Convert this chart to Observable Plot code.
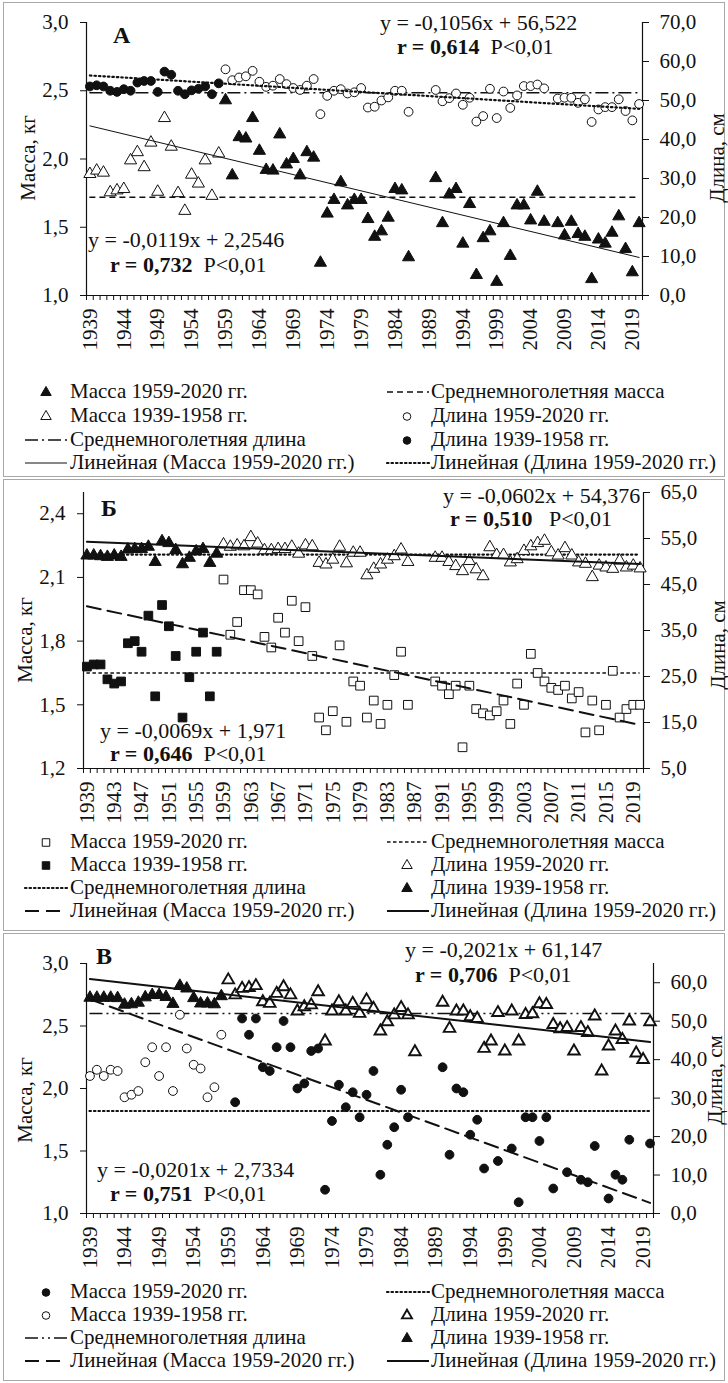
<!DOCTYPE html>
<html><head><meta charset="utf-8">
<script src="https://cdn.jsdelivr.net/npm/d3@7"></script>
<script src="https://cdn.jsdelivr.net/npm/@observablehq/plot@0.6"></script>
<style>
body{margin:0;background:#fff;font-family:"Liberation Serif","Times New Roman",serif;color:#111;}
#page{position:relative;width:728px;height:1383px;overflow:hidden;background:#fff;}
.box{position:absolute;border:1.5px solid #a8a8a8;box-sizing:border-box;}
.t{position:absolute;white-space:nowrap;font-size:22px;line-height:1;}
.lg{position:absolute;white-space:nowrap;font-size:21px;line-height:1;}
.rot{position:absolute;white-space:nowrap;font-size:21px;line-height:1;transform:translate(-50%,-50%) rotate(-90deg);}
.svgwrap{position:absolute;left:0;}
</style></head>
<body><div id="page"></div>
<script>
// ---------------- DATA ----------------
const yearsEarly = d3.range(1939, 1959);
const yearsLate = d3.range(1959, 2021);

// Panel A
const massA_early = [1.89,1.915,1.90,1.756,1.77,1.78,1.99,2.05,1.94,2.12,1.76,2.30,2.09,1.75,1.62,1.885,1.82,1.99,1.73,2.04];
const lenA_early = [53.6,53.9,53.6,52.5,52.2,52.9,52.5,54.6,55.0,55.0,52.2,57.4,56.6,52.5,51.6,52.6,53.0,53.6,51.6,54.4];
const massA_late = [2.43,1.88,2.16,2.15,2.30,2.06,1.92,1.915,2.18,1.96,2.00,1.88,2.05,2.01,1.24,1.60,1.70,1.83,1.66,1.70,
  1.70,1.56,1.43,1.47,1.57,1.78,1.77,1.28,null,null,null,1.86,1.53,1.74,1.78,1.38,1.67,1.15,1.42,1.47,
  1.10,1.53,1.29,1.66,1.66,1.55,1.76,1.54,null,1.53,1.44,1.54,1.45,1.43,1.12,1.41,1.38,1.46,1.58,1.34,1.17,1.53];
const lenA_late = [58.0,55.2,55.9,56.2,57.6,54.8,53.5,53.8,55.5,54.2,53.2,52.7,53.8,55.5,46.5,51.2,52.5,52.9,51.8,52.1,
  53.2,48.2,48.4,50.0,50.8,52.5,52.5,47.1,null,null,null,52.7,49.8,50.6,51.8,48.9,50.7,44.6,46.0,53.0,
  45.5,52.3,48.1,51.3,53.7,53.7,54.1,53.1,null,50.5,50.7,50.7,49.4,50.3,44.5,47.7,48.3,48.3,50.3,47.3,44.9,49.1];
const meanA = {mass: 1.72, len: 52.0};
const trendA = {massSlope: -0.0119, massIntercept: 2.2546, lenSlope: -0.1056, lenIntercept: 56.522};

// Panel B
const massB_early = [1.68,1.69,1.69,1.62,1.60,1.61,1.79,1.80,1.75,1.92,1.54,1.97,1.87,1.73,1.44,1.63,1.75,1.84,1.54,1.75];
const lenB_early = [51.3,51.3,51.15,51.0,51.3,51.0,52.6,52.7,52.7,53.2,49.9,54.4,54.0,52.5,49.4,50.8,52.2,52.7,49.7,51.7];
const massB_late = [2.09,1.83,1.89,2.04,2.04,2.02,1.82,1.77,1.91,1.84,1.99,1.80,1.96,1.73,1.44,1.38,1.47,1.78,1.42,1.61,
  1.59,1.44,1.52,1.41,1.50,1.64,1.75,1.50,null,null,null,1.61,1.59,1.55,1.59,1.30,1.59,1.48,1.46,1.45,
  1.47,1.52,1.41,1.60,1.50,1.74,1.65,1.61,1.58,1.57,1.59,1.53,1.56,1.37,1.52,1.38,1.50,1.66,1.44,1.48,1.50,1.50];
const lenB_late = [53.7,53.2,53.5,53.3,55.3,53.9,52.45,52.45,52.7,52.7,53.2,51.7,53.5,53.3,49.7,49.35,50.4,53.2,49.6,51.9,
  51.9,47.0,48.4,49.35,50.4,51.15,52.6,49.9,null,null,null,50.8,50.8,49.9,49.0,47.9,50.1,48.3,46.8,53.1,
  51.4,51.4,49.8,50.5,52.3,53.3,54.0,54.5,52.0,51.3,52.9,51.3,49.8,49.5,46.6,49.1,48.7,48.4,50.2,48.7,49.1,48.5];
const meanB = {mass: 1.65, len: 51.5};
const trendB = {massSlope: -0.0069, massIntercept: 1.971, lenSlope: -0.0602, lenIntercept: 54.376};

// Panel C
const massC_early = [2.10,2.15,2.10,2.15,2.14,1.93,1.95,1.98,2.21,2.33,2.10,2.33,1.98,2.59,2.32,2.19,2.16,1.93,2.01,2.43];
const lenC_early = [56.1,56.1,56.1,56.1,56.0,54.3,54.4,54.8,56.2,56.8,56.8,56.3,54.5,59.2,58.5,56.0,54.6,54.6,54.4,56.5];
const massC_late = [null,1.89,2.56,2.43,2.56,2.17,2.14,2.33,2.54,2.33,2.00,2.04,2.30,2.32,1.19,1.74,2.03,1.85,1.97,1.77,
  1.95,2.14,1.31,1.55,1.69,1.99,1.77,null,null,null,null,2.17,1.47,2.00,1.97,1.63,1.75,1.36,null,1.42,
  null,1.52,1.09,1.77,1.77,1.58,1.77,1.20,null,1.33,null,1.27,1.25,1.54,null,1.12,1.31,1.27,1.59,null,null,1.56];
const lenC_late = [60.7,56.8,58.5,58.7,59.2,55.0,54.6,57.2,58.9,56.8,52.6,53.7,54.2,57.6,44.8,52.6,55.0,52.6,54.6,52.0,
  55.5,53.3,47.4,49.8,51.6,53.5,51.6,42.0,null,null,null,54.9,48.1,52.6,52.6,51.1,50.7,42.9,44.8,52.2,
  42.2,52.6,44.8,51.7,51.9,54.5,54.3,49.1,48.0,48.3,42.2,48.3,47.0,51.3,37.0,43.5,47.4,45.2,50.0,41.7,40.0,49.8];
const meanC = {mass: 1.82, len: 52.0};
const trendC = {massSlope: -0.0201, massIntercept: 2.7334, lenSlope: -0.2021, lenIntercept: 61.147};

// Tick labels
const kgTicksA = [1.0,1.5,2.0,2.5,3.0], cmTicksA = [0,10,20,30,40,50,60,70];
const kgTicksB = [1.2,1.5,1.8,2.1,2.4], cmTicksB = [5,15,25,35,45,55,65];
const kgTicksC = [1.0,1.5,2.0,2.5,3.0], cmTicksC = [0,10,20,30,40,50,60];
const yearLabelsA = d3.range(1939, 2020, 5);
const yearLabelsB = d3.range(1939, 2020, 4);
const yearLabelsC = d3.range(1939, 2020, 5);

const legendA = [
  [["triF","Масса 1959-2020 гг."],["dash","Среднемноголетняя масса"]],
  [["triO","Масса 1939-1958 гг."],["cirO","Длина 1959-2020 гг."]],
  [["dashdot","Среднемноголетняя длина"],["cirF","Длина 1939-1958 гг."]],
  [["thin","Линейная (Масса 1959-2020 гг.)"],["dot","Линейная (Длина 1959-2020 гг.)"]]
];
const legendB = [
  [["sqO","Масса 1959-2020 гг."],["short","Среднемноголетняя масса"]],
  [["sqF","Масса 1939-1958 гг."],["triO","Длина 1959-2020 гг."]],
  [["dot","Среднемноголетняя длина"],["triF","Длина 1939-1958 гг."]],
  [["long","Линейная (Масса 1959-2020 гг.)"],["solid","Линейная (Длина 1959-2020 гг.)"]]
];
const legendC = [
  [["cirF","Масса 1959-2020 гг."],["dot","Среднемноголетняя масса"]],
  [["cirO","Масса 1939-1958 гг."],["triOB","Длина 1959-2020 гг."]],
  [["dashdotdot","Среднемноголетняя длина"],["triF","Длина 1939-1958 гг."]],
  [["long","Линейная (Масса 1959-2020 гг.)"],["solid","Линейная (Длина 1959-2020 гг.)"]]
];

// ---------------- DRAWING ----------------
const page = document.getElementById("page");
const fmt1 = d => (Math.round(d*10)/10).toFixed(1).replace(".", ",");
const FONT = "Liberation Serif";
const lineStyles = {
  dash: {dash:"6,4", w:1.6},
  short: {dash:"3.5,2.5", w:1.6},
  dot: {dash:"1.5,3", w:2.2, cap:"round"},
  dashdot: {dash:"13,4,2,4", w:1.6},
  dashdotdot: {dash:"13,4,2,4,2,4", w:1.6},
  thin: {dash:null, w:1},
  solid: {dash:null, w:2},
  long: {dash:"14,7", w:2}
};
const markerStyles = {
  triF:{symbol:"triangle", fill:"#111", sw:1, r:4.5},
  triO:{symbol:"triangle", fill:"#fff", sw:1, r:4.5},
  triOB:{symbol:"triangle", fill:"#fff", sw:1.9, r:4.3},
  cirF:{symbol:"circle", fill:"#111", sw:1, r:4.4},
  cirO:{symbol:"circle", fill:"#fff", sw:1, r:4.4},
  sqF:{symbol:"square", fill:"#111", sw:1, r:4.9},
  sqO:{symbol:"square", fill:"#fff", sw:1, r:4.9}
};

function rows(yrs, vals, conv) {
  return yrs.map((y, i) => ({year: y, v: vals[i] == null ? null : conv(vals[i])})).filter(d => d.v != null);
}
function trendRows(slope, intercept, conv) {
  return [1, 82].map(i => ({year: 1938 + i, v: conv(intercept + slope * i)}));
}
function addText(html, left, top, cls, extra) {
  const d = document.createElement("div");
  d.className = cls || "t";
  d.innerHTML = html;
  d.style.left = left + "px"; d.style.top = top + "px";
  if (extra) Object.assign(d.style, extra);
  page.appendChild(d);
  return d;
}
function legendSym(key, cx) {
  const ns = "http://www.w3.org/2000/svg";
  const svg = document.createElementNS(ns, "svg");
  svg.setAttribute("width", 50); svg.setAttribute("height", 16);
  svg.style.position = "absolute";
  if (lineStyles[key]) {
    const s = lineStyles[key];
    const l = document.createElementNS(ns, "line");
    l.setAttribute("x1", 3); l.setAttribute("x2", 45); l.setAttribute("y1", 8); l.setAttribute("y2", 8);
    l.setAttribute("stroke", "#111"); l.setAttribute("stroke-width", s.w);
    if (s.dash) l.setAttribute("stroke-dasharray", s.dash);
    if (s.cap) l.setAttribute("stroke-linecap", s.cap);
    svg.appendChild(l);
  } else {
    const m = markerStyles[key];
    const p = document.createElementNS(ns, "path");
    const sym = {triangle: d3.symbolTriangle, circle: d3.symbolCircle, square: d3.symbolSquare}[m.symbol];
    p.setAttribute("d", d3.symbol(sym, Math.PI * m.r * m.r * 0.75)());
    p.setAttribute("transform", "translate(" + cx + ",8.5)");
    p.setAttribute("fill", m.fill); p.setAttribute("stroke", "#111"); p.setAttribute("stroke-width", m.sw);
    svg.appendChild(p);
  }
  return svg;
}

function drawPanel(cfg) {
  const conv = cfg.toKg;
  const marks = [];
  marks.push(Plot.ruleX([1938.5], {stroke:"#111", strokeWidth:1.2}));
  marks.push(Plot.ruleX([2020.5], {stroke:"#111", strokeWidth:1.2}));
  marks.push(Plot.ruleY([cfg.kgDomain[0]], {stroke:"#111", strokeWidth:1.2}));
  marks.push(Plot.axisY(cfg.kgTicks, {anchor:"left", tickSize:6, tickPadding:12, fontSize:21, tickFormat: fmt1, label:null}));
  marks.push(Plot.axisY(cfg.cmTicks.map(conv), {anchor:"right", tickSize:6, tickPadding:11, fontSize:21,
    tickFormat: d => fmt1(cfg.fromKg(d)), label:null}));
  marks.push(Plot.axisX(d3.range(1938.5, 2021, 1), {anchor:"bottom", tickSize:5, tickFormat: () => "", label:null}));
  marks.push(Plot.axisX(cfg.yearLabels, {anchor:"bottom", tickSize:0, tickPadding:13, tickRotate:-90, fontSize:21,
    tickFormat: d => String(d), label:null}));
  const ms = lineStyles[cfg.meanMassStyle], ls = lineStyles[cfg.meanLenStyle];
  marks.push(Plot.ruleY([cfg.mean.mass], {x1:1939, x2:2020, stroke:"#111", strokeWidth:ms.w, strokeDasharray:ms.dash, strokeLinecap:ms.cap}));
  marks.push(Plot.ruleY([conv(cfg.mean.len)], {x1:1939, x2:2020, stroke:"#111", strokeWidth:ls.w, strokeDasharray:ls.dash, strokeLinecap:ls.cap}));
  for (const s of cfg.series) {
    const m = markerStyles[s.marker];
    marks.push(Plot.dot(rows(s.years, s.values, s.len ? conv : (v => v)), {
      x:"year", y:"v", symbol: m.symbol, r: m.r, fill: m.fill, stroke:"#111", strokeWidth: m.sw
    }));
  }
  const tm = lineStyles[cfg.trendMassStyle], tl = lineStyles[cfg.trendLenStyle];
  marks.push(Plot.line(trendRows(cfg.trend.massSlope, cfg.trend.massIntercept, v => v), {x:"year", y:"v", stroke:"#111", strokeWidth:tm.w, strokeDasharray:tm.dash}));
  marks.push(Plot.line(trendRows(cfg.trend.lenSlope, cfg.trend.lenIntercept, conv), {x:"year", y:"v", stroke:"#111", strokeWidth:tl.w, strokeDasharray:tl.dash, strokeLinecap:tl.cap}));

  const chart = Plot.plot({
    width: 728, height: cfg.height,
    marginLeft: cfg.ml, marginRight: cfg.mr, marginTop: cfg.mt, marginBottom: cfg.mb,
    x: {domain: [1938.5, 2020.5]},
    y: {domain: cfg.kgDomain},
    style: {fontFamily: FONT, fontSize: "21px", color: "#111", background: "transparent", overflow: "visible"},
    marks
  });
  const wrap = document.createElement("div");
  wrap.className = "svgwrap"; wrap.style.top = cfg.top + "px";
  wrap.appendChild(chart);
  page.appendChild(wrap);

  const b = document.createElement("div");
  b.className = "box";
  Object.assign(b.style, {left: "3px", top: cfg.box[0] + "px", width: "722px", height: (cfg.box[1] - cfg.box[0]) + "px"});
  page.appendChild(b);

  addText("Масса, кг", cfg.titleL[0], cfg.titleL[1], "rot");
  addText("Длина, см", cfg.titleR[0], cfg.titleR[1], "rot");
  addText("<b>" + cfg.letter + "</b>", cfg.letterPos[0] - 9, cfg.letterPos[1] - 12, "t", {fontSize: "24px"});
  for (const e of cfg.eq) addText(e[0], e[1], e[2] - 11, "t");
  cfg.legend.forEach((row, ri) => {
    row.forEach((item, ci) => {
      const y = cfg.legendY[ri];
      const sx = ci === 0 ? 22 : 384;
      const sym = legendSym(item[0], ci === 0 ? 24 : 23);
      sym.style.left = sx + "px"; sym.style.top = (y - 8) + "px";
      page.appendChild(sym);
      addText(item[1], ci === 0 ? 70 : 431, y - 11, "lg");
    });
  });
}

const convA = cm => 1 + cm * 2 / 70, backA = k => (k - 1) * 35;
const convB = cm => 1.2 + (cm - 5) * 1.3 / 60, backB = k => 5 + (k - 1.2) * 60 / 1.3;
const convC = cm => 1 + cm * 2 / 65, backC = k => (k - 1) * 32.5;

drawPanel({
  top: 0, height: 355, mt: 22, mb: 60, ml: 86, mr: 86, box: [2, 477],
  kgDomain: [1, 3], kgTicks: kgTicksA, cmTicks: cmTicksA, toKg: convA, fromKg: backA,
  yearLabels: yearLabelsA, mean: meanA, trend: trendA,
  meanMassStyle: "dash", meanLenStyle: "dashdot", trendMassStyle: "thin", trendLenStyle: "dot",
  series: [
    {years: yearsEarly, values: lenA_early, len: true, marker: "cirF"},
    {years: yearsLate, values: lenA_late, len: true, marker: "cirO"},
    {years: yearsEarly, values: massA_early, marker: "triO"},
    {years: yearsLate, values: massA_late, marker: "triF"}
  ],
  titleL: [28, 158], titleR: [717, 158],
  letter: "А", letterPos: [122, 35],
  eq: [["y = -0,1056x + 56,522", 380, 23], ["<b>r = 0,614</b>&nbsp; P&lt;0,01", 397, 47],
       ["y = -0,0119x + 2,2546", 88, 240], ["<b>r = 0,732</b>&nbsp; P&lt;0,01", 110, 265]],
  legend: legendA, legendY: [392, 416, 440, 463]
});
drawPanel({
  top: 470, height: 358, mt: 22, mb: 60, ml: 83, mr: 85, box: [479, 931],
  kgDomain: [1.2, 2.5], kgTicks: kgTicksB, cmTicks: cmTicksB, toKg: convB, fromKg: backB,
  yearLabels: yearLabelsB, mean: meanB, trend: trendB,
  meanMassStyle: "short", meanLenStyle: "dot", trendMassStyle: "long", trendLenStyle: "solid",
  series: [
    {years: yearsLate, values: lenB_late, len: true, marker: "triO"},
    {years: yearsEarly, values: lenB_early, len: true, marker: "triF"},
    {years: yearsLate, values: massB_late, marker: "sqO"},
    {years: yearsEarly, values: massB_early, marker: "sqF"}
  ],
  titleL: [25, 640], titleR: [718, 645],
  letter: "Б", letterPos: [110, 508],
  eq: [["y = -0,0602x + 54,376", 443, 496], ["<b>r = 0,510</b>&nbsp;&nbsp; P&lt;0,01", 450, 519],
       ["y = -0,0069x + 1,971", 100, 731], ["<b>r = 0,646</b>&nbsp; P&lt;0,01", 110, 754]],
  legend: legendB, legendY: [842, 865, 888, 911]
});
drawPanel({
  top: 940, height: 333, mt: 23, mb: 60, ml: 86, mr: 75, box: [933, 1381],
  kgDomain: [1, 3], kgTicks: kgTicksC, cmTicks: cmTicksC, toKg: convC, fromKg: backC,
  yearLabels: yearLabelsC, mean: meanC, trend: trendC,
  meanMassStyle: "dot", meanLenStyle: "dashdotdot", trendMassStyle: "long", trendLenStyle: "solid",
  series: [
    {years: yearsLate, values: lenC_late, len: true, marker: "triOB"},
    {years: yearsEarly, values: lenC_early, len: true, marker: "triF"},
    {years: yearsEarly, values: massC_early, marker: "cirO"},
    {years: yearsLate, values: massC_late, marker: "cirF"}
  ],
  titleL: [25, 1100], titleR: [715, 1080],
  letter: "В", letterPos: [105, 956],
  eq: [["y = -0,2021x + 61,147", 405, 950], ["<b>r = 0,706</b>&nbsp; P&lt;0,01", 415, 975],
       ["y = -0,0201x + 2,7334", 97, 1170], ["<b>r = 0,751</b>&nbsp; P&lt;0,01", 110, 1194]],
  legend: legendC, legendY: [1292, 1315, 1338, 1361]
});
</script>
</body></html>
